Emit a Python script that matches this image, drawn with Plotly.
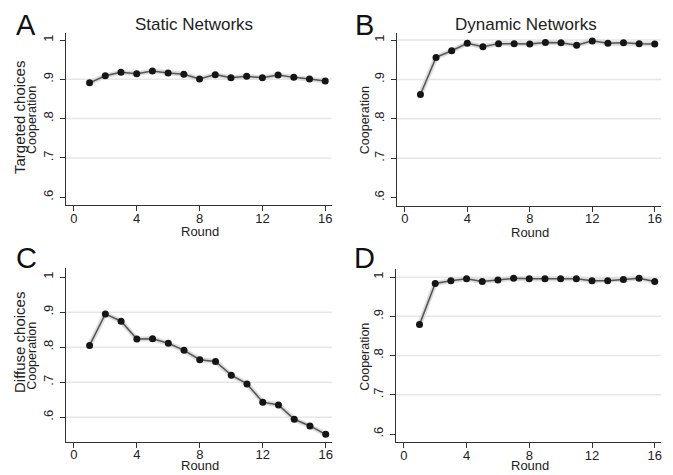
import plotly.graph_objects as go

W, H = 673, 475

rounds = list(range(1, 17))
static_targeted = [0.891, 0.909, 0.918, 0.914, 0.921, 0.916, 0.913, 0.901,
                   0.912, 0.904, 0.908, 0.904, 0.911, 0.905, 0.901, 0.896]
dynamic_targeted = [0.862, 0.956, 0.973, 0.992, 0.983, 0.991, 0.991, 0.990,
                    0.994, 0.993, 0.987, 0.998, 0.992, 0.993, 0.991, 0.990]
static_diffuse = [0.805, 0.895, 0.874, 0.823, 0.824, 0.811, 0.791, 0.764,
                  0.759, 0.720, 0.695, 0.643, 0.635, 0.594, 0.575, 0.551]
dynamic_diffuse = [0.879, 0.984, 0.991, 0.996, 0.989, 0.993, 0.997, 0.996,
                   0.996, 0.996, 0.996, 0.991, 0.991, 0.994, 0.997, 0.989]

x_ticks = [0, 4, 8, 12, 16]
y_ticks = [0.6, 0.7, 0.8, 0.9, 1.0]
y_tick_text = [".6", ".7", ".8", ".9", "1"]

panel_letters = ["A", "B", "C", "D"]
col_titles = ["Static Networks", "Dynamic Networks"]
row_titles = ["Targeted choices", "Diffuse choices"]
grid_vals = [[0.7, 0.8, 0.9], [0.7, 0.8, 0.9, 1.0],
             [0.6, 0.7, 0.8, 0.9], [0.7, 0.8, 0.9, 1.0]]

series = [static_targeted, dynamic_targeted, static_diffuse, dynamic_diffuse]

# plot areas in pixels: (left, right, top, bottom)
boxes = [(66, 331.5, 33, 205), (397, 661, 33, 205.5),
         (66, 332, 268, 441.7), (396, 661, 269.3, 442.3)]
y_ranges = [[0.58, 1.018], [0.58, 1.018], [0.53, 1.026], [0.579, 1.02]]
x_range = [-0.5, 16.4]

def px(x):
    return x / W

def py(y):
    return 1 - y / H

FONT = "Liberation Sans, Arial, sans-serif"
fig = go.Figure()
layout = dict(width=W, height=H, margin=dict(l=0, r=0, t=0, b=0),
              paper_bgcolor="white", plot_bgcolor="white", showlegend=False,
              font=dict(family=FONT, color="#222"))
annotations = []
shapes = []

def ann(text, x, y, size, angle=0, color="#222"):
    annotations.append(dict(text=text, x=px(x), y=py(y), xref="paper", yref="paper",
                            xanchor="center", yanchor="middle", showarrow=False,
                            textangle=angle,
                            font=dict(size=size, family=FONT, color=color)))

for i, (vals, box) in enumerate(zip(series, boxes)):
    n = i + 1
    xa = "x" if n == 1 else f"x{n}"
    ya = "y" if n == 1 else f"y{n}"
    l, r, t, b = box
    fig.add_trace(go.Scatter(x=rounds, y=vals, mode="lines", xaxis=xa, yaxis=ya,
                             line=dict(color="#dcdcdc", width=5), hoverinfo="skip"))
    fig.add_trace(go.Scatter(x=rounds, y=vals, mode="lines+markers", xaxis=xa, yaxis=ya,
                             line=dict(color="#555555", width=1.5),
                             marker=dict(color="#151515", size=7)))
    layout["xaxis" if n == 1 else f"xaxis{n}"] = dict(
        domain=[px(l), px(r)], anchor=ya, range=x_range, tickvals=x_ticks,
        showgrid=False, zeroline=False, showline=True, linecolor="#333", linewidth=1,
        ticks="outside", ticklen=5, tickcolor="#333", ticklabelstandoff=-4,
        tickfont=dict(size=13, family=FONT, color="#222"))
    layout["yaxis" if n == 1 else f"yaxis{n}"] = dict(
        domain=[py(b), py(t)], anchor=xa, range=y_ranges[i], tickvals=y_ticks,
        ticktext=y_tick_text, tickangle=-90,
        showgrid=False, zeroline=False, showline=True, linecolor="#333", linewidth=1,
        ticks="outside", ticklen=5, tickcolor="#333", ticklabelstandoff=2,
        tickfont=dict(size=13, family=FONT, color="#222"))
    for g in grid_vals[i]:
        shapes.append(dict(type="line", xref=f"{xa} domain", yref=ya, x0=0, x1=1,
                           y0=g, y1=g, line=dict(color="#e6e6e6", width=1.5), layer="below"))
    ann("Round", (l + r) / 2 + 1, b + (27 if i < 2 else 23.5), 13)
    cx = 32 if i % 2 == 0 else 365
    ann("Cooperation", cx, (t + b) / 2 + 1, 12.5, angle=-90)
    lx = 26 if i % 2 == 0 else 364
    ly = 25 if i < 2 else 258
    ann(panel_letters[i], lx, ly, 29, color="#111")

for j, title in enumerate(col_titles):
    ann(title, 194 if j == 0 else 526, 25, 17)
for j, title in enumerate(row_titles):
    ann(title, 19, 118 if j == 0 else 343, 15, angle=-90)

layout["annotations"] = annotations
layout["shapes"] = shapes
fig.update_layout(**layout)
fig.write_html("out.html", config={"displayModeBar": False},
               post_script="document.body.style.margin='0';document.body.style.padding='0';")
